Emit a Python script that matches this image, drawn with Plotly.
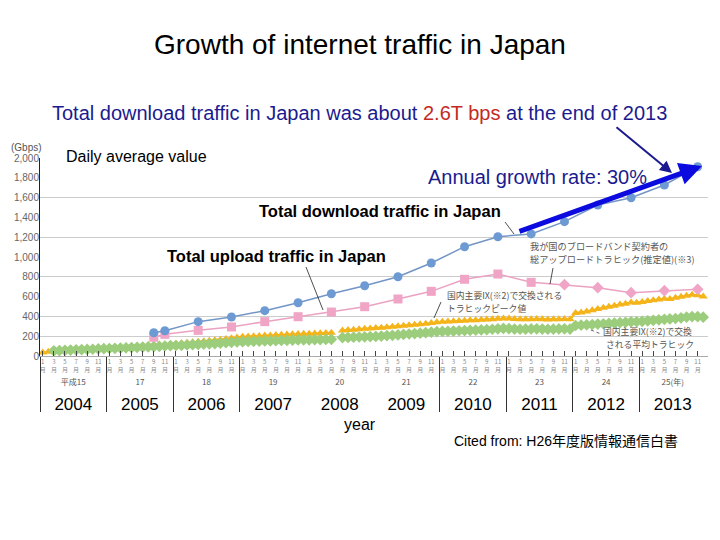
import plotly.graph_objects as go

# ---------------- data ----------------
years = list(range(2004, 2014))
year_labels = [str(y) for y in years]
era_labels = ["平成15", "17", "18", "19", "20", "21", "22", "23", "24", "25(年)"]
month_ticks = [1, 3, 5, 7, 9, 11]
separator_years = [2004, 2005, 2006, 2007, 2010, 2011, 2012, 2013]

# semi-annual estimates (year, month)
semi_periods = [(2005, 9), (2005, 11)] + [(y, m) for y in range(2006, 2014) for m in (5, 11)]
download_total = [235, 255, 347, 394, 458, 538, 629, 710, 801, 939, 1104, 1205,
                  1233, 1357, 1525, 1599, 1727, 1912]
upload_total = [189, 219, 259, 293, 347, 397, 444, 498, 576, 653, 775, 828,
                744, 720, 690, 640, 660, 673]
upload_symbols = ["square"] * 13 + ["diamond"] * 5

# monthly IX traffic, Jan 2004 .. Dec 2013
ix_peak = [
    35, 42, 62, 65, 67, 70, 72, 74, 76, 78, 81, 85,
    88, 90, 93, 96, 98, 101, 104, 107, 110, 114, 117, 121,
    124, 128, 133, 138, 143, 148, 153, 158, 165, 172, 179, 187,
    195, 198, 200, 203, 206, 208, 211, 214, 216, 219, 222, 224,
    226, 228, 231, 233, 235, None, 258, 262, 266, 270, 274, 278,
    282, 286, 291, 296, 301, 306, 311, 316, 321, 327, 334, 340,
    345, 348, 351, 354, 357, 360, 362, 365, 368, 372, 376, 380,
    378, 374, 371, 370, 372, 373, 371, 369, 370, 372, 374, 370,
    435, 440, 450, 462, 475, 487, 497, 507, 520, 528, 540, 538,
    545, 555, 563, 570, 578, 575, 588, 598, 608, 618, 614, 602,
]
ix_average = [
    None, None, 52, 55, 57, 60, 62, 64, 66, 68, 71, 74,
    76, 78, 80, 83, 85, 88, 90, 93, 95, 98, 101, 104,
    106, 108, 111, 114, 117, 120, 123, 126, 130, 134, 138, 142,
    145, 147, 148, 150, 152, 153, 155, 157, 158, 160, 162, 163,
    163, 164, 166, 167, 168, None, 186, 188, 190, 192, 194, 196,
    198, 201, 205, 209, 213, 218, 222, 227, 231, 236, 241, 246,
    248, 250, 252, 255, 257, 259, 261, 263, 266, 270, 275, 279,
    276, 272, 270, 271, 273, 274, 272, 270, 271, 273, 275, 272,
    308, 311, 315, 318, 322, 326, 329, 333, 337, 340, 345, 346,
    350, 355, 360, 364, 370, 374, 379, 386, 393, 398, 397, 392,
]
y_tick_values = list(range(0, 2001, 200))
grid_values = [200, 400, 800, 1200, 1600]

# ---------------- derived positions ----------------
def dec(y, m):
    return y + (m - 0.5) / 12.0

x_semi = [dec(y, m) for (y, m) in semi_periods]
x_month = [dec(y, m) for y in years for m in range(1, 13)]
month_tickvals = [dec(y, m) for y in years for m in month_ticks]
month_ticktext = [f"{m}<br>月" for y in years for m in month_ticks]
year_centers = [y + 0.5 for y in years]

# the page body adds an 8px offset, so the figure is drawn 8px smaller
W, H = 712, 532
PW, PH = 668, 198
L, T = 32, 150
R, B = W - L - PW, H - T - PH
XR = [2004, 2004 + PW / 66.6]

def px(x):  # screen pixel -> paper
    return (x - 8 - L) / PW

def py(y):
    return (T + PH - (y - 8)) / PH

EN = "Liberation Sans, Arial, sans-serif"
JP = "Noto Sans CJK JP, sans-serif"

fig = go.Figure()
fig.add_trace(go.Scatter(x=x_month, y=ix_peak, mode="lines+markers",
                         line=dict(color="#f4b41a", width=2),
                         marker=dict(symbol="triangle-up", size=8, color="#f4b41a"),
                         cliponaxis=False, hoverinfo="skip"))
fig.add_trace(go.Scatter(x=x_month, y=ix_average, mode="lines+markers",
                         line=dict(color="#9ccd7c", width=2),
                         marker=dict(symbol="diamond", size=9, color="#9ccd7c"),
                         cliponaxis=False, hoverinfo="skip"))
fig.add_trace(go.Scatter(x=x_semi, y=upload_total, mode="lines+markers",
                         line=dict(color="#eba2c2", width=1.5),
                         marker=dict(symbol=upload_symbols, size=9, color="#f0a4c6"),
                         cliponaxis=False, hoverinfo="skip"))
fig.add_trace(go.Scatter(x=x_semi, y=download_total, mode="lines+markers",
                         line=dict(color="#7395c6", width=1.5),
                         marker=dict(symbol="circle", size=9, color="#6e9ad3"),
                         cliponaxis=False, hoverinfo="skip"))
# empty traces to register the overlay axes
for xa, ya in [("x2", "y"), ("x3", "y"), ("x4", "y"), ("x", "y2")]:
    fig.add_trace(go.Scatter(x=[], y=[], xaxis=xa, yaxis=ya, showlegend=False, hoverinfo="skip"))

common_x = dict(range=XR, showgrid=False, zeroline=False, fixedrange=True)
fig.update_layout(
    width=W, height=H, margin=dict(l=L, r=R, t=T, b=B, autoexpand=False),
    paper_bgcolor="white", plot_bgcolor="white", showlegend=False,
    font=dict(family=EN, color="black"),
    xaxis=dict(**common_x, anchor="y", tickmode="array", tickvals=month_tickvals,
               ticktext=month_ticktext, ticks="inside", ticklen=5, tickcolor="#444",
               tickfont=dict(size=6, color="#888", family=JP),
               showline=True, linecolor="#aaa", linewidth=1),
    xaxis2=dict(**common_x, overlaying="x", anchor="y", side="bottom", tickmode="array",
                tickvals=year_centers, ticktext=era_labels, ticks="", showline=False,
                ticklabelstandoff=20, tickfont=dict(size=8, color="#555", family=JP)),
    xaxis3=dict(**common_x, overlaying="x", anchor="y", side="bottom", tickmode="array",
                tickvals=year_centers, ticktext=year_labels, ticks="", showline=False,
                ticklabelstandoff=36, tickfont=dict(size=17, color="black", family=EN)),
    xaxis4=dict(**common_x, overlaying="x", anchor="y", side="bottom", tickmode="array",
                tickvals=separator_years, ticks="outside", ticklen=55, tickcolor="#333",
                tickwidth=1, showticklabels=False, showline=False),
    yaxis=dict(range=[0, 2000], tickmode="array", tickvals=grid_values, showticklabels=False,
               ticks="", showgrid=True, gridcolor="#cccccc", gridwidth=1, zeroline=False,
               showline=True, linecolor="#222", linewidth=1, fixedrange=True),
    yaxis2=dict(range=[0, 2000], overlaying="y", side="left", anchor="x", tickmode="array",
                tickvals=y_tick_values, ticktext=[f"{v:,}" for v in y_tick_values],
                tickfont=dict(size=10, color="#666"), showgrid=False, zeroline=False,
                showline=False, ticks="", fixedrange=True),
)

shapes = [
    # white label box hiding part of the 1,600 grid line
    dict(type="rect", xref="paper", yref="paper", x0=px(222), x1=px(511), y0=py(230), y1=py(190),
         fillcolor="white", line=dict(width=0), layer="between"),
]
leaders = [((505, 222), (514, 234)), ((306, 267), (323, 310)), ((441, 302), (434, 318)),
           ((553, 268), (550, 284))]
for (x0, y0), (x1, y1) in leaders:
    shapes.append(dict(type="line", xref="paper", yref="paper", x0=px(x0), y0=py(y0),
                       x1=px(x1), y1=py(y1), line=dict(color="#222", width=0.8)))
shapes.append(dict(type="line", xref="paper", yref="paper", x0=px(591), y0=py(330),
                   x1=px(601), y1=py(334), line=dict(color="#333", width=0.8, dash="dot")))
fig.update_layout(shapes=shapes)

def ann(x, y, text, size, color="black", family=EN, xanchor="center", align="center", pad=1):
    return dict(x=px(x), y=py(y), xref="paper", yref="paper", text=text, showarrow=False,
                font=dict(size=size, color=color, family=family), xanchor=xanchor,
                yanchor="middle", align=align, borderpad=pad)

navy = "#1b1b8f"
annotations = [
    ann(360, 44, "Growth of internet traffic in Japan", 28),
    ann(359, 113, "Total download traffic in Japan was about "
        "<span style='color:#c42a1e'>2.6T bps</span> at the end of 2013", 20, navy),
    ann(136.5, 156, "Daily average value", 16),
    ann(537, 177, "Annual growth rate: 30%", 20, navy),
    ann(380, 211, "<b>Total download traffic in Japan</b>", 16.5),
    ann(276.5, 256, "<b>Total upload traffic in Japan</b>", 16.5),
    ann(360, 424, "year", 16),
    ann(566, 441, "Cited from: H26年度版情報通信白書", 14, family="Liberation Sans, Noto Sans CJK JP"),
    ann(9, 147, "(Gbps)", 10, "#555", xanchor="left"),
    ann(529, 246, "我が国のブロードバンド契約者の", 9.2, "#555", JP, "left", "left", 0),
    ann(529, 258.5, "総アップロードトラヒック(推定値)(※3)", 9.2, "#555", JP, "left", "left", 0),
    ann(446, 295.5, "国内主要IX(※2)で交換される", 8.8, "#555", JP, "left", "left", 0),
    ann(446, 308, "トラヒックピーク値", 8.8, "#555", JP, "left", "left", 0),
    ann(602, 331.5, "国内主要IX(※2)で交換", 8.8, "#555", JP, "left", "left", 0),
    ann(605, 344, "される平均トラヒック", 8.8, "#555", JP, "left", "left", 0),
    # arrows
    dict(x=px(702), y=py(166), xref="paper", yref="paper", text="", showarrow=True,
         ax=518 - 702, ay=232 - 166, arrowhead=2, arrowsize=0.9, arrowwidth=5,
         arrowcolor="#0b0be0", standoff=0),
    dict(x=px(672), y=py(173), xref="paper", yref="paper", text="", showarrow=True,
         ax=615 - 672, ay=126 - 173, arrowhead=2, arrowsize=1.2, arrowwidth=2,
         arrowcolor=navy, standoff=0),
]
fig.update_layout(annotations=annotations)

fig.write_html("out.html")
